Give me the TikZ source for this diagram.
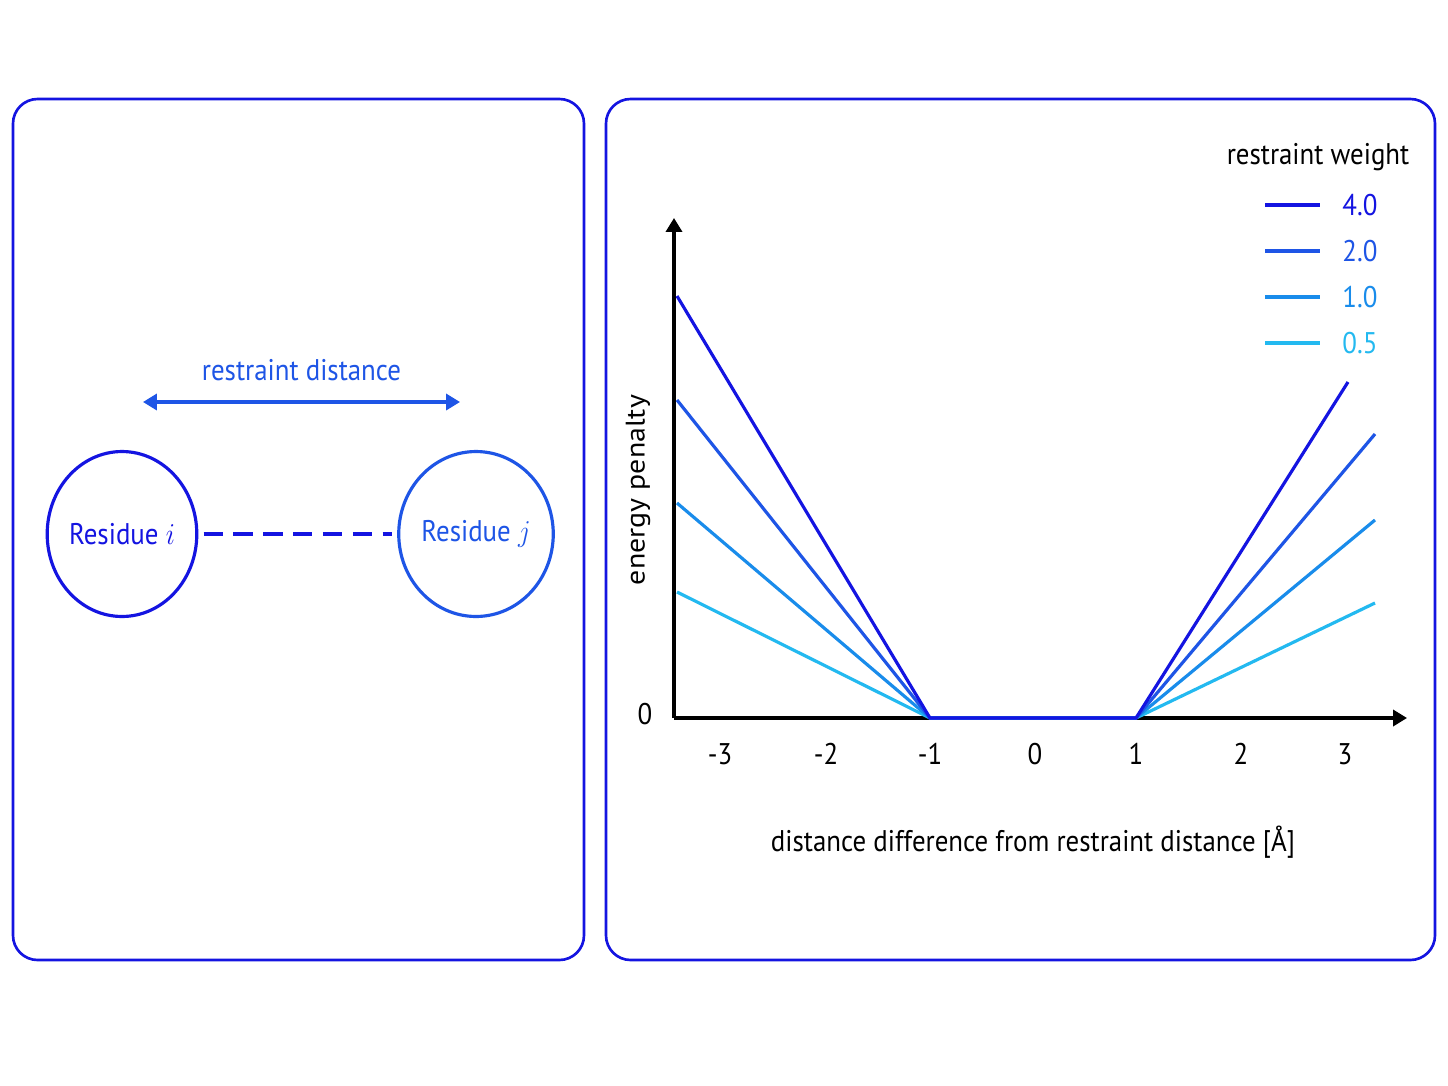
\documentclass[tikz,border=0pt]{standalone}
\usepackage{fontspec}
\setmainfont{PT Sans}
\usetikzlibrary{arrows.meta,shapes.geometric}
\definecolor{wfour}{RGB}{20,20,225}
\definecolor{wtwo}{RGB}{30,85,230}
\definecolor{wone}{RGB}{25,140,235}
\definecolor{whalf}{RGB}{35,185,240}
\tikzset{lbl/.style={font=\fontsize{17}{20}\selectfont,xscale=0.9},
panel/.style={draw=wfour,line width=1.5pt,rounded corners=14pt}}
\begin{document}
\begin{tikzpicture}[x=0.02cm,y=-0.02cm]
\useasboundingbox (0,0) rectangle (1448,1086);
\fill[white] (0,0) rectangle (1448,1086);
\draw[panel] (13,99) rectangle (584,960);
\draw[panel] (606,99) rectangle (1435,960);
% residues
\node[draw=wfour,line width=1.8pt,ellipse,inner sep=0pt,minimum width=2.86cm,minimum height=3.3cm,lbl,text=wfour] (ri) at (122,534) {Residue $i$};
\node[draw=wtwo,line width=1.8pt,ellipse,inner sep=0pt,minimum width=2.8cm,minimum height=3.3cm,lbl,text=wtwo] (rj) at (476,534) {Residue $j$};
\draw[wfour,line width=2pt,dash pattern=on 11pt off 6pt,shorten <=3pt,shorten >=3pt] (ri) -- (rj);
\coordinate (da) at (143,402);
\coordinate (db) at (460,402);
\draw[wtwo,line width=1.8pt,{Triangle[]}-{Triangle[]}] (da) -- (db) node[midway,above=8pt,lbl,text=wtwo] (dl) {restraint distance};
% axes
\coordinate (o) at (674,718);
\coordinate (ytop) at (674,218);
\coordinate (xend) at (1407,718);
\draw[line width=1.8pt,-{Triangle[]}] (o) -- (ytop);
\draw[line width=1.8pt,-{Triangle[]}] (o) -- (xend);
\node[lbl] (zero) at (645,714) {0};
\foreach \v/\x in {-3/720,-2/826,-1/930,0/1035,1/1136,2/1241,3/1345}
  \node[lbl] (t\x) at (\x,754) {\v};
\node[lbl,rotate=90] (ylab) at (638,490) {energy penalty};
\node[lbl] (xlab) at (1033,842) {distance difference from restraint distance [Å]};
% penalty curves
\foreach \c/\l/\r/\ry in {whalf/592/1375/603,wone/503/1375/520,wtwo/400/1375/434,wfour/296/1348/382}
  \draw[\c,line width=1.8pt] (677,\l) -- (930,718) -- (1136,718) -- (\r,\ry);
% legend
\node[lbl] (lt) at (1318,157) {restraint weight};
\foreach \c/\w/\y in {wfour/4.0/205,wtwo/2.0/251,wone/1.0/297,whalf/0.5/343}
{
  \draw[\c,line width=2pt] (1265,\y) -- (1320,\y);
  \node[lbl,text=\c] (l\y) at (1360,\y) {\w};
}
\end{tikzpicture}
\end{document}
